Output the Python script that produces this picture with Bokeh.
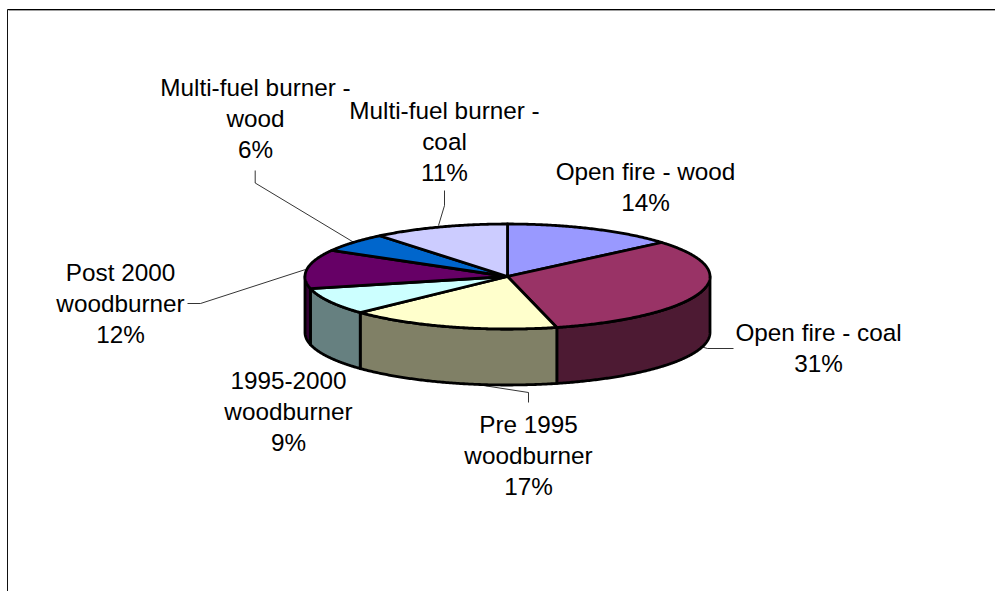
import numpy as np
from bokeh.plotting import figure
from bokeh.core.properties import value
from bokeh.embed import file_html
from bokeh.resources import INLINE

# data
categories = ["Open fire - wood", "Open fire - coal", "Pre 1995\nwoodburner",
              "1995-2000\nwoodburner", "Post 2000\nwoodburner",
              "Multi-fuel burner -\nwood", "Multi-fuel burner -\ncoal"]
shares = [13.6, 31.4, 17.0, 8.6, 12.4, 6.0, 11.0]
top_colors = ["#9999FF", "#993366", "#FFFFCC", "#CCFFFF", "#660066", "#0066CC", "#CCCCFF"]
side_colors = ["#4D4D80", "#4D1A33", "#808066", "#668080", "#330033", "#003366", "#666680"]

# layout (page pixels)
W, H = 995, 591
CX, CY, RX, RY, DEPTH = 507.0, 276.0, 202.5, 52.5, 56.0
SKEW = 4.0  # apparent angle shift of the tilted pie, degrees
label_x = [645, 818, 528, 288, 120, 255, 444]
label_y = [171, 332, 424, 380, 272, 87, 110]
LINE = 30.8
leaders = [
    ([444, 444, 438], [190, 205, 225]),
    ([254.7, 254.7, 353], [170, 182.5, 241.7]),
    ([187, 200, 305], [303, 303, 269]),
    ([700, 707, 733], [346, 348, 348]),
    ([470, 528, 528], [383, 392, 402]),
]

p = figure(width=W, height=H, x_range=(0, W), y_range=(H, 0),
           output_backend="svg", toolbar_location=None, min_border=0,
           outline_line_color=None, background_fill_color="white")
p.axis.visible = False
p.grid.visible = False


def warp(deg):
    rad = np.radians(deg)
    return deg + SKEW * (1 - np.cos(rad)) / 2


def arc(a, b, drop=0.0):
    t = np.radians(np.linspace(a, b, max(int(abs(b - a)) * 2, 2)))
    return CX + RX * np.sin(t), CY - RY * np.cos(t) + drop


cum = np.concatenate([[0], np.cumsum(shares)])
cum = cum / cum[-1] * 360
edges = [float(warp(c)) for c in cum]

# frame
p.line([7, 7], [9, H], line_color="#111111", line_width=1)
p.line([7, W], [9, 9], line_color="black", line_width=1)
p.line([8, W], [10, 10], line_color="#A0A0A0", line_width=1)

# outer walls
wx, wy, wc = [], [], []
for i in range(len(shares)):
    a, b = max(edges[i], 90), min(edges[i + 1], 270)
    if b > a:
        x1, y1 = arc(a, b)
        x2, y2 = arc(b, a, DEPTH)
        wx.append(np.concatenate([x1, x2]))
        wy.append(np.concatenate([y1, y2]))
        wc.append(side_colors[i])
p.patches(wx, wy, fill_color=wc, line_color="black", line_width=2.8, line_join="round")

# top slices
tx, ty = [], []
for i in range(len(shares)):
    x1, y1 = arc(edges[i], edges[i + 1])
    tx.append(np.concatenate([[CX], x1]))
    ty.append(np.concatenate([[CY], y1]))
p.patches(tx, ty, fill_color=top_colors, line_color="black", line_width=2.8, line_join="round")

# leaders
for lx, ly in leaders:
    p.line(lx, ly, line_color="black", line_width=0.8)

# labels
xs, ys, texts = [], [], []
for name, v, x, y in zip(categories, shares, label_x, label_y):
    for j, s in enumerate(name.split("\n") + [f"{round(v)}%"]):
        xs.append(x)
        ys.append(y + j * LINE)
        texts.append(s)
p.text(xs, ys, text=texts, text_font=value("Liberation Sans"), text_font_size="24.3px",
       text_align="center", text_baseline="middle", text_color="black")

open("out.html", "w").write(file_html(p, INLINE))
